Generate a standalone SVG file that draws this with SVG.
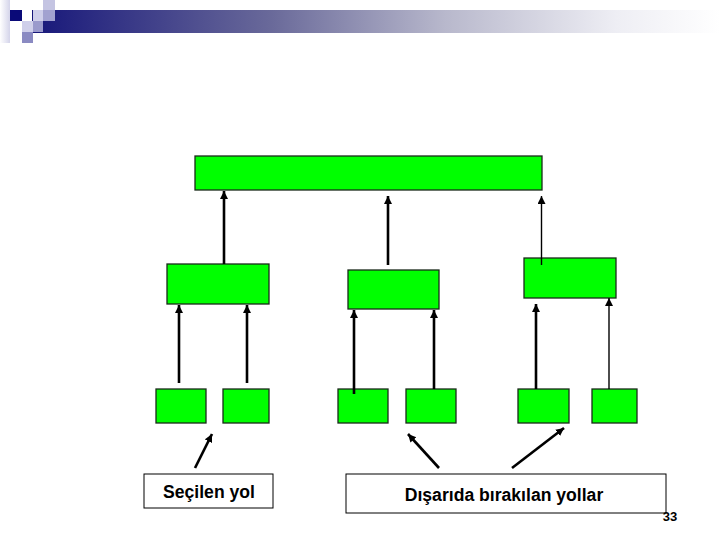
<svg xmlns="http://www.w3.org/2000/svg" width="720" height="540" viewBox="0 0 720 540">
<defs>
<linearGradient id="bar" x1="0" y1="0" x2="1" y2="0">
<stop offset="0" stop-color="#17177a"/>
<stop offset="0.35" stop-color="#6a6a9a"/>
<stop offset="0.6" stop-color="#b8b8cc"/>
<stop offset="0.85" stop-color="#eeeef4"/>
<stop offset="1" stop-color="#ffffff"/>
</linearGradient>
<linearGradient id="col" x1="0" y1="0" x2="1" y2="0">
<stop offset="0" stop-color="#ffffff"/>
<stop offset="1" stop-color="#d4d4ea"/>
</linearGradient>
<marker id="ah" markerUnits="userSpaceOnUse" markerWidth="10" markerHeight="10" refX="8" refY="4" orient="auto">
<path d="M0,0 L8,4 L0,8 z" fill="#000"/>
</marker>
<style>
.n{fill:#00ff00;stroke:#1a2a1a;stroke-width:1.3}
.lb{fill:#fff;stroke:#000;stroke-width:1}
.k{stroke:#000;stroke-width:2.6;fill:none;marker-end:url(#ah)}
.t{stroke:#000;stroke-width:1.4;fill:none;marker-end:url(#ah)}
.tx{font-family:"Liberation Sans",Arial,sans-serif;font-weight:bold;font-size:17.6px;fill:#000;text-anchor:middle}
</style>
</defs>
<rect width="720" height="540" fill="#fff"/>
<g id="header">
<rect x="32" y="10" width="688" height="23" fill="url(#bar)"/>
<rect x="0" y="0" width="10" height="43" fill="url(#col)"/>
<rect x="43" y="0" width="12" height="10" fill="#c4c4e2"/>
<rect x="10" y="10" width="12" height="11" fill="#0a0a78"/>
<rect x="33" y="10" width="10" height="11" fill="#cfcfea"/>
<rect x="43" y="10" width="12" height="11" fill="#a2a2d0"/>
<rect x="22" y="21" width="11" height="11" fill="#cfcfea"/>
<rect x="33" y="21" width="10" height="11" fill="#9a9acc"/>
<rect x="22" y="32" width="11" height="11" fill="#8a8ac2"/>
</g>
<g id="root"><rect class="n" x="195" y="156" width="347" height="34"/></g>
<g id="mid1"><rect class="n" x="167" y="264" width="102" height="40"/></g>
<g id="mid2"><rect class="n" x="348" y="270" width="91" height="39"/></g>
<g id="mid3"><rect class="n" x="524" y="258" width="92" height="40"/></g>
<g id="leaf1"><rect class="n" x="156" y="389" width="50" height="34"/></g>
<g id="leaf2"><rect class="n" x="223" y="389" width="46" height="34"/></g>
<g id="leaf3"><rect class="n" x="338" y="389" width="50" height="34"/></g>
<g id="leaf4"><rect class="n" x="406" y="389" width="50" height="34"/></g>
<g id="leaf5"><rect class="n" x="518" y="389" width="51" height="34"/></g>
<g id="leaf6"><rect class="n" x="592" y="389" width="45" height="34"/></g>
<g id="label1">
<rect class="lb" x="144" y="474" width="129" height="34"/>
<text class="tx" x="209" y="498">Seçilen yol</text>
</g>
<g id="label2">
<rect class="lb" x="346" y="474" width="320" height="39"/>
<text class="tx" x="504" y="501">Dışarıda bırakılan yollar</text>
</g>
<g id="connectors">
<line class="k" x1="224" y1="264" x2="224" y2="191"/>
<line class="k" x1="388" y1="265" x2="388" y2="196"/>
<line class="t" x1="541.5" y1="265" x2="541.5" y2="196"/>
<line class="k" x1="179" y1="383" x2="179" y2="305"/>
<line class="k" x1="247" y1="383" x2="247" y2="305"/>
<line class="k" x1="354" y1="394" x2="354" y2="310"/>
<line class="k" x1="434" y1="389" x2="434" y2="310"/>
<line class="k" x1="536" y1="389" x2="536" y2="304"/>
<line class="t" x1="609" y1="389" x2="609" y2="298"/>
<line class="k" x1="195" y1="468" x2="212" y2="434"/>
<line class="k" x1="439" y1="468" x2="408" y2="434"/>
<line class="k" x1="512" y1="468" x2="564" y2="428"/>
</g>
<text x="670" y="521" font-family="Liberation Sans, Arial, sans-serif" font-weight="bold" font-size="13" text-anchor="middle">33</text>
</svg>
